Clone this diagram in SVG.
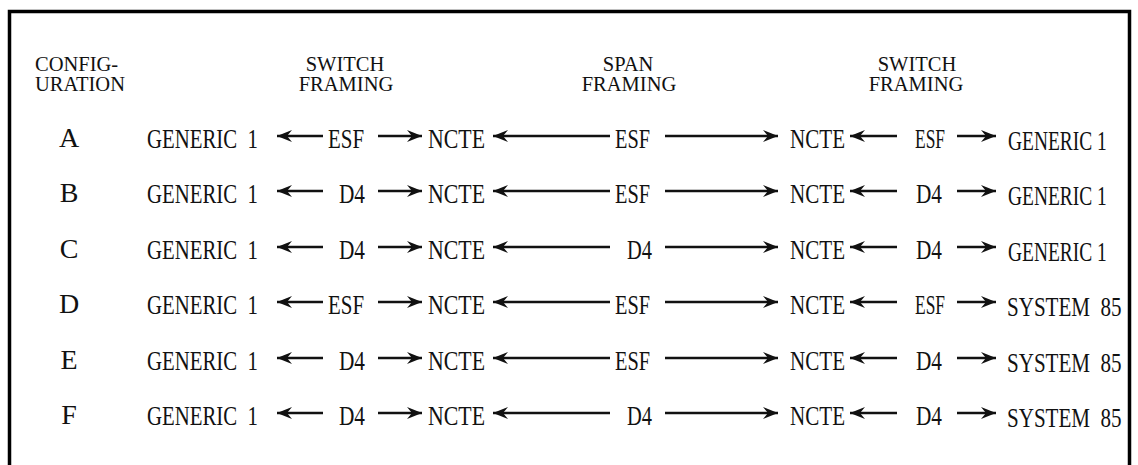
<svg xmlns="http://www.w3.org/2000/svg" width="1138" height="465" viewBox="0 0 1138 465">
<style>
.h{font-family:"Liberation Serif","Times New Roman",serif;font-size:20.5px;fill:#111}
.t{font-family:"Liberation Serif","Times New Roman",serif;font-size:27px;fill:#111}
.l{font-family:"Liberation Serif","Times New Roman",serif;font-size:28px;fill:#111}
.c{stroke:#111;stroke-width:2.4;fill:none;marker-end:url(#ah)}
.frame{stroke:#000;stroke-width:3.5;fill:none}
</style>
<defs>
<marker id="ah" markerUnits="userSpaceOnUse" markerWidth="18" markerHeight="14" viewBox="-16 -7 18 14" refX="0" refY="0" orient="auto">
<path d="M0,0 L-15,-6 L-10,0 L-15,6 Z" fill="#111"/>
</marker>
</defs>
<rect width="1138" height="465" fill="#fff"/>
<g id="frame">
<path class="frame" d="M9.5,465 V11.5 H1129.5 V465"/>
</g>
<g id="headers">
<text class="h" x="35" y="71">CONFIG-</text>
<text class="h" x="35" y="91">URATION</text>
<text class="h" x="345" y="71" text-anchor="middle">SWITCH</text>
<text class="h" x="346" y="91" text-anchor="middle">FRAMING</text>
<text class="h" x="628" y="71" text-anchor="middle">SPAN</text>
<text class="h" x="629" y="91" text-anchor="middle">FRAMING</text>
<text class="h" x="917" y="71" text-anchor="middle">SWITCH</text>
<text class="h" x="916" y="91" text-anchor="middle">FRAMING</text>
</g>
<g id="rowA">
<text class="l" x="69" y="147" text-anchor="middle">A</text>
<text class="t" x="147" y="148" textLength="111" lengthAdjust="spacingAndGlyphs" xml:space="preserve">GENERIC  1</text>
<text class="t" x="328" y="148" textLength="36" lengthAdjust="spacingAndGlyphs">ESF</text>
<text class="t" x="428" y="148" textLength="57" lengthAdjust="spacingAndGlyphs">NCTE</text>
<text class="t" x="615" y="148" textLength="35" lengthAdjust="spacingAndGlyphs">ESF</text>
<text class="t" x="790" y="148" textLength="55" lengthAdjust="spacingAndGlyphs">NCTE</text>
<text class="t" x="915" y="148" textLength="30" lengthAdjust="spacingAndGlyphs">ESF</text>
<text class="t" transform="translate(1008,150) scale(0.72,1)">GENERIC 1</text>
</g>
<g id="rowB">
<text class="l" x="69" y="202" text-anchor="middle">B</text>
<text class="t" x="147" y="203" textLength="111" lengthAdjust="spacingAndGlyphs" xml:space="preserve">GENERIC  1</text>
<text class="t" x="339" y="203" textLength="26" lengthAdjust="spacingAndGlyphs">D4</text>
<text class="t" x="428" y="203" textLength="57" lengthAdjust="spacingAndGlyphs">NCTE</text>
<text class="t" x="615" y="203" textLength="35" lengthAdjust="spacingAndGlyphs">ESF</text>
<text class="t" x="790" y="203" textLength="55" lengthAdjust="spacingAndGlyphs">NCTE</text>
<text class="t" x="916" y="203" textLength="26" lengthAdjust="spacingAndGlyphs">D4</text>
<text class="t" transform="translate(1008,205) scale(0.72,1)">GENERIC 1</text>
</g>
<g id="rowC">
<text class="l" x="69" y="258" text-anchor="middle">C</text>
<text class="t" x="147" y="259" textLength="111" lengthAdjust="spacingAndGlyphs" xml:space="preserve">GENERIC  1</text>
<text class="t" x="339" y="259" textLength="26" lengthAdjust="spacingAndGlyphs">D4</text>
<text class="t" x="428" y="259" textLength="57" lengthAdjust="spacingAndGlyphs">NCTE</text>
<text class="t" x="627" y="259" textLength="25" lengthAdjust="spacingAndGlyphs">D4</text>
<text class="t" x="790" y="259" textLength="55" lengthAdjust="spacingAndGlyphs">NCTE</text>
<text class="t" x="916" y="259" textLength="26" lengthAdjust="spacingAndGlyphs">D4</text>
<text class="t" transform="translate(1008,261) scale(0.72,1)">GENERIC 1</text>
</g>
<g id="rowD">
<text class="l" x="69" y="313" text-anchor="middle">D</text>
<text class="t" x="147" y="314" textLength="111" lengthAdjust="spacingAndGlyphs" xml:space="preserve">GENERIC  1</text>
<text class="t" x="328" y="314" textLength="36" lengthAdjust="spacingAndGlyphs">ESF</text>
<text class="t" x="428" y="314" textLength="57" lengthAdjust="spacingAndGlyphs">NCTE</text>
<text class="t" x="615" y="314" textLength="35" lengthAdjust="spacingAndGlyphs">ESF</text>
<text class="t" x="790" y="314" textLength="55" lengthAdjust="spacingAndGlyphs">NCTE</text>
<text class="t" x="915" y="314" textLength="30" lengthAdjust="spacingAndGlyphs">ESF</text>
<text class="t" transform="translate(1007,316) scale(0.78,1)" xml:space="preserve">SYSTEM  85</text>
</g>
<g id="rowE">
<text class="l" x="69" y="369" text-anchor="middle">E</text>
<text class="t" x="147" y="370" textLength="111" lengthAdjust="spacingAndGlyphs" xml:space="preserve">GENERIC  1</text>
<text class="t" x="339" y="370" textLength="26" lengthAdjust="spacingAndGlyphs">D4</text>
<text class="t" x="428" y="370" textLength="57" lengthAdjust="spacingAndGlyphs">NCTE</text>
<text class="t" x="615" y="370" textLength="35" lengthAdjust="spacingAndGlyphs">ESF</text>
<text class="t" x="790" y="370" textLength="55" lengthAdjust="spacingAndGlyphs">NCTE</text>
<text class="t" x="916" y="370" textLength="26" lengthAdjust="spacingAndGlyphs">D4</text>
<text class="t" transform="translate(1007,372) scale(0.78,1)" xml:space="preserve">SYSTEM  85</text>
</g>
<g id="rowF">
<text class="l" x="69" y="424" text-anchor="middle">F</text>
<text class="t" x="147" y="425" textLength="111" lengthAdjust="spacingAndGlyphs" xml:space="preserve">GENERIC  1</text>
<text class="t" x="339" y="425" textLength="26" lengthAdjust="spacingAndGlyphs">D4</text>
<text class="t" x="428" y="425" textLength="57" lengthAdjust="spacingAndGlyphs">NCTE</text>
<text class="t" x="627" y="425" textLength="25" lengthAdjust="spacingAndGlyphs">D4</text>
<text class="t" x="790" y="425" textLength="55" lengthAdjust="spacingAndGlyphs">NCTE</text>
<text class="t" x="916" y="425" textLength="26" lengthAdjust="spacingAndGlyphs">D4</text>
<text class="t" transform="translate(1007,427) scale(0.78,1)" xml:space="preserve">SYSTEM  85</text>
</g>
<g id="connectors">
<path class="c" d="M323,136 H277"/><path class="c" d="M378,136 H422"/><path class="c" d="M610,136 H493"/><path class="c" d="M665,136 H778"/><path class="c" d="M897,136 H850"/><path class="c" d="M957,136 H996"/>
<path class="c" d="M323,191 H277"/><path class="c" d="M378,191 H422"/><path class="c" d="M610,191 H493"/><path class="c" d="M665,191 H778"/><path class="c" d="M897,191 H850"/><path class="c" d="M957,191 H996"/>
<path class="c" d="M323,247 H277"/><path class="c" d="M378,247 H422"/><path class="c" d="M610,247 H493"/><path class="c" d="M665,247 H778"/><path class="c" d="M897,247 H850"/><path class="c" d="M957,247 H996"/>
<path class="c" d="M323,302 H277"/><path class="c" d="M378,302 H422"/><path class="c" d="M610,302 H493"/><path class="c" d="M665,302 H778"/><path class="c" d="M897,302 H850"/><path class="c" d="M957,302 H996"/>
<path class="c" d="M323,358 H277"/><path class="c" d="M378,358 H422"/><path class="c" d="M610,358 H493"/><path class="c" d="M665,358 H778"/><path class="c" d="M897,358 H850"/><path class="c" d="M957,358 H996"/>
<path class="c" d="M323,413 H277"/><path class="c" d="M378,413 H422"/><path class="c" d="M610,413 H493"/><path class="c" d="M665,413 H778"/><path class="c" d="M897,413 H850"/><path class="c" d="M957,413 H996"/>
</g>
</svg>
